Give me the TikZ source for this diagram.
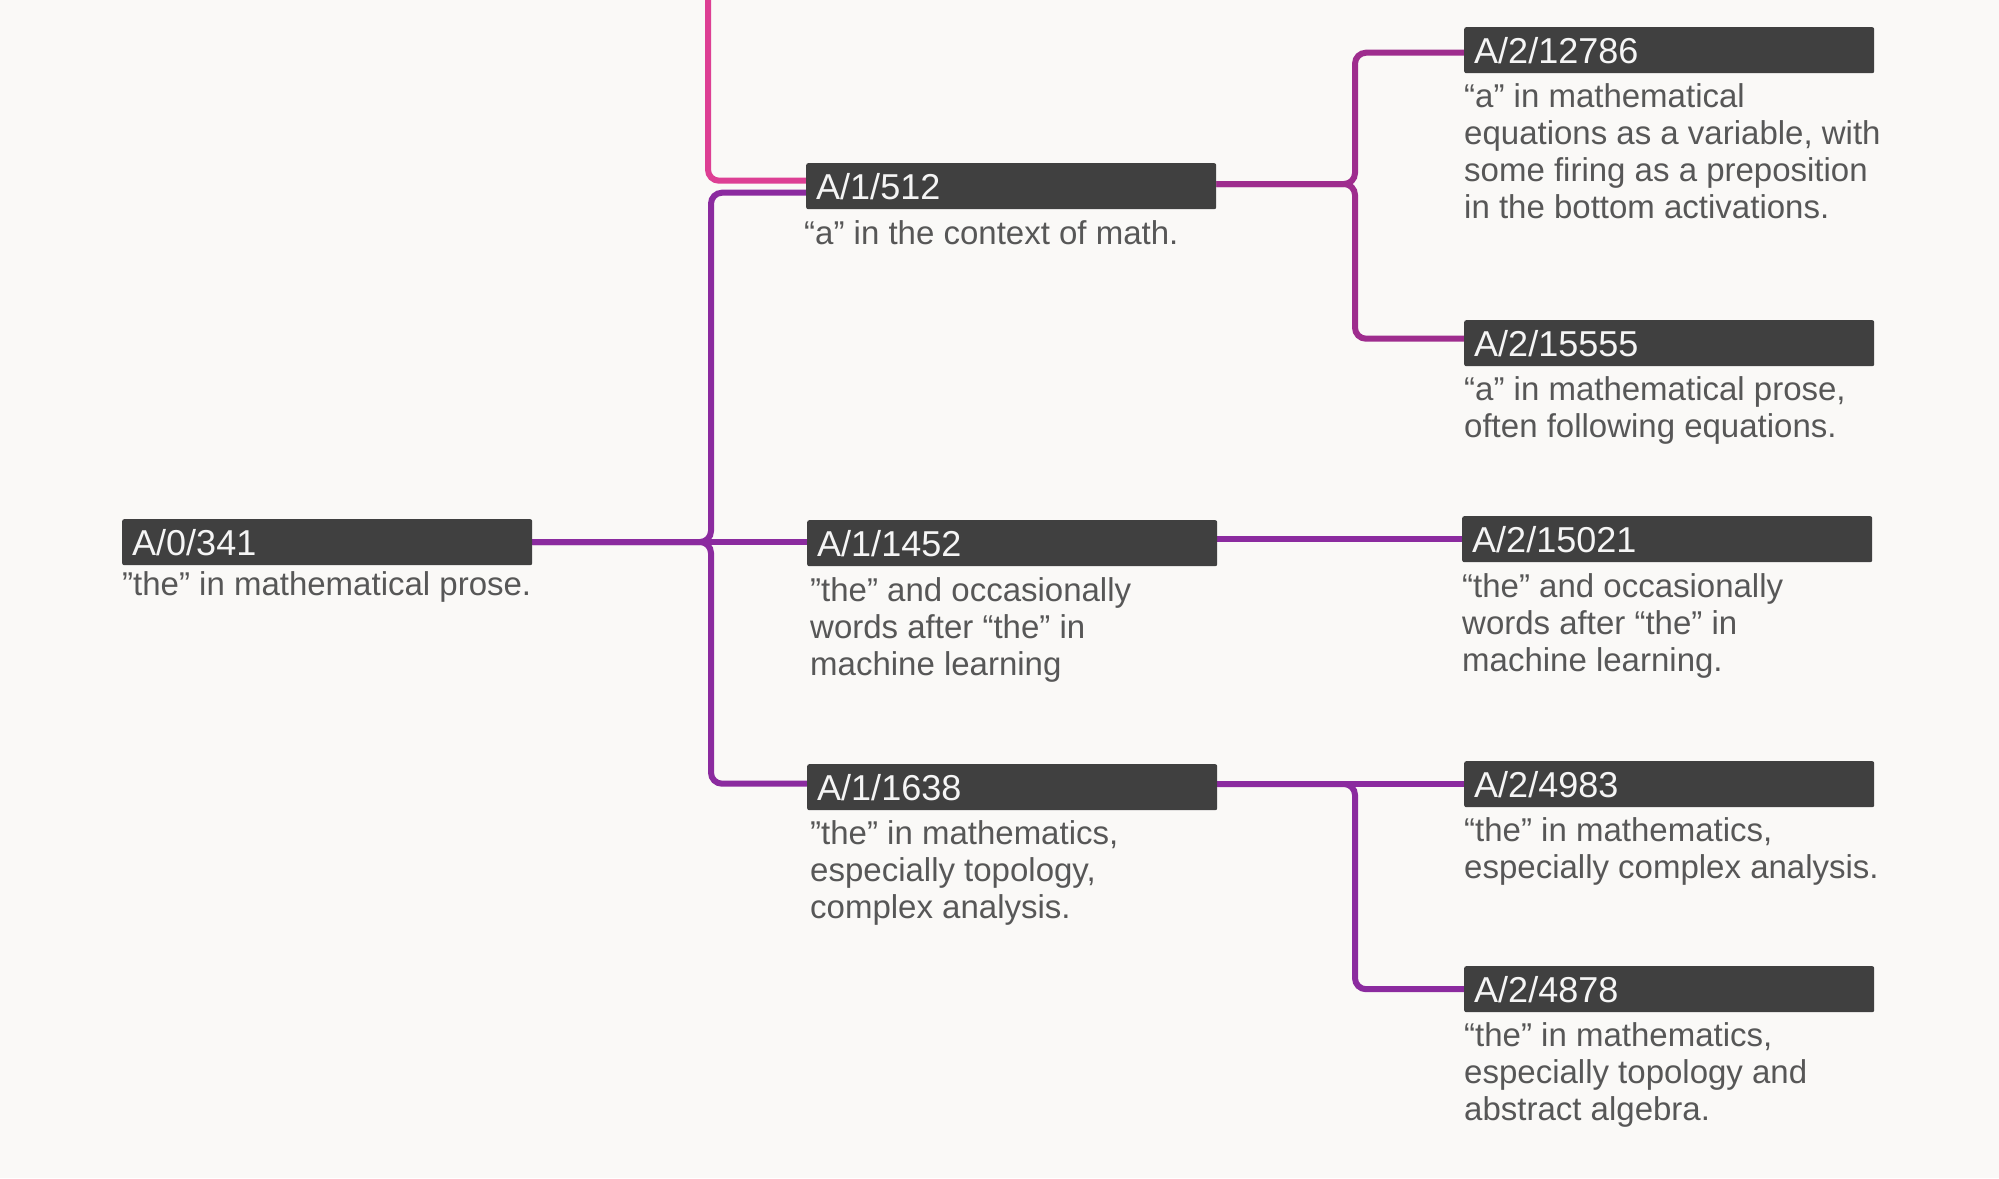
\documentclass[tikz,border=0pt]{standalone}
\usepackage{fontspec}
\setmainfont{Liberation Sans}
\definecolor{bgc}{HTML}{FAF9F7}
\definecolor{boxc}{HTML}{404040}
\definecolor{capc}{HTML}{575757}
\definecolor{pinkc}{HTML}{DD3F94}
\definecolor{magc}{HTML}{9E2D8E}
\definecolor{purpc}{HTML}{8B2B9F}
\pgfdeclarelayer{bglayer}
\pgfsetlayers{bglayer,main}
\begin{document}
\begin{tikzpicture}[x=1pt,y=-1pt,
  labelbox/.style={fill=boxc, rounded corners=2pt, text=white!96!black,
    font=\fontsize{36}{40}\selectfont, minimum height=46pt, text width=390pt,
    inner xsep=10pt, inner ysep=0pt, align=left, text height=26pt, text depth=0pt,
    anchor=north west},
  captext/.style={anchor=north west, inner sep=0pt, text=capc,
    font=\fontsize{33}{37}\selectfont, align=left},
  link/.style={line width=6pt, rounded corners=11pt}]
\useasboundingbox (0,0) rectangle (1999,1178);
\clip (0,0) rectangle (1999,1178);

% boxes
\node[labelbox] (b341) at (122,519) {A/0/341};
\node[labelbox] (b512) at (806,163) {A/1/512};
\node[labelbox] (b1452) at (807,520) {A/1/1452};
\node[labelbox] (b1638) at (807,764) {A/1/1638};
\node[labelbox] (b12786) at (1464,27) {A/2/12786};
\node[labelbox] (b15555) at (1464,320) {A/2/15555};
\node[labelbox] (b15021) at (1462,516) {A/2/15021};
\node[labelbox] (b4983) at (1464,761) {A/2/4983};
\node[labelbox] (b4878) at (1464,966) {A/2/4878};

% captions
\node[captext] (c341) at ([yshift=-4pt]b341.south west) {\strut ”the” in mathematical prose.};
\node[captext] (c512) at ([yshift=-9pt,xshift=-2pt]b512.south west) {\strut “a” in the context of math.};
\node[captext] (c1452) at ([yshift=-9pt,xshift=3pt]b1452.south west) {\strut ”the” and occasionally\\words after “the” in\\machine learning};
\node[captext] (c1638) at ([yshift=-8pt,xshift=3pt]b1638.south west) {\strut ”the” in mathematics,\\especially topology,\\complex analysis.};
\node[captext] (c12786) at ([yshift=-8pt]b12786.south west) {\strut “a” in mathematical\\equations as a variable, with\\some firing as a preposition\\in the bottom activations.};
\node[captext] (c15555) at ([yshift=-8pt]b15555.south west) {\strut “a” in mathematical prose,\\often following equations.};
\node[captext] (c15021) at ([yshift=-9pt]b15021.south west) {\strut “the” and occasionally\\words after “the” in\\machine learning.};
\node[captext] (c4983) at ([yshift=-8pt]b4983.south west) {\strut “the” in mathematics,\\especially complex analysis.};
\node[captext] (c4878) at ([yshift=-8pt]b4878.south west) {\strut “the” in mathematics,\\especially topology and\\abstract algebra.};

% junctions
\coordinate (top) at (708,-6);
\coordinate (j1) at (711,542);
\coordinate (j2) at (1355,184);
\coordinate (j3) at (1355,784);

\begin{pgfonlayer}{bglayer}
  \fill[bgc] (0,0) rectangle (1999,1178);
  \draw[link, pinkc] (top) |- ([yshift=5.5pt]b512.west);
  \draw[link, purpc] (b341.east) -- (j1) |- ([yshift=-6.5pt]b512.west);
  \draw[link, purpc] (b341.east) -- (b341.east -| b1452.west);
  \draw[link, purpc] (b341.east) -- (j1) |- ([yshift=3.5pt]b1638.west);
  \draw[link, magc] (b512.east |- j2) -- (j2) |- ([yshift=-2.5pt]b12786.west);
  \draw[link, magc] (b512.east |- j2) -- (j2) |- ([yshift=4.5pt]b15555.west);
  \draw[link, purpc] (b1452.east |- b15021.west) -- (b15021.west);
  \draw[link, purpc] (b1638.east |- j3) -- (b4983.west |- j3);
  \draw[link, purpc] (b1638.east |- j3) -- (j3) |- (b4878.west);
\end{pgfonlayer}
\end{tikzpicture}
\end{document}
